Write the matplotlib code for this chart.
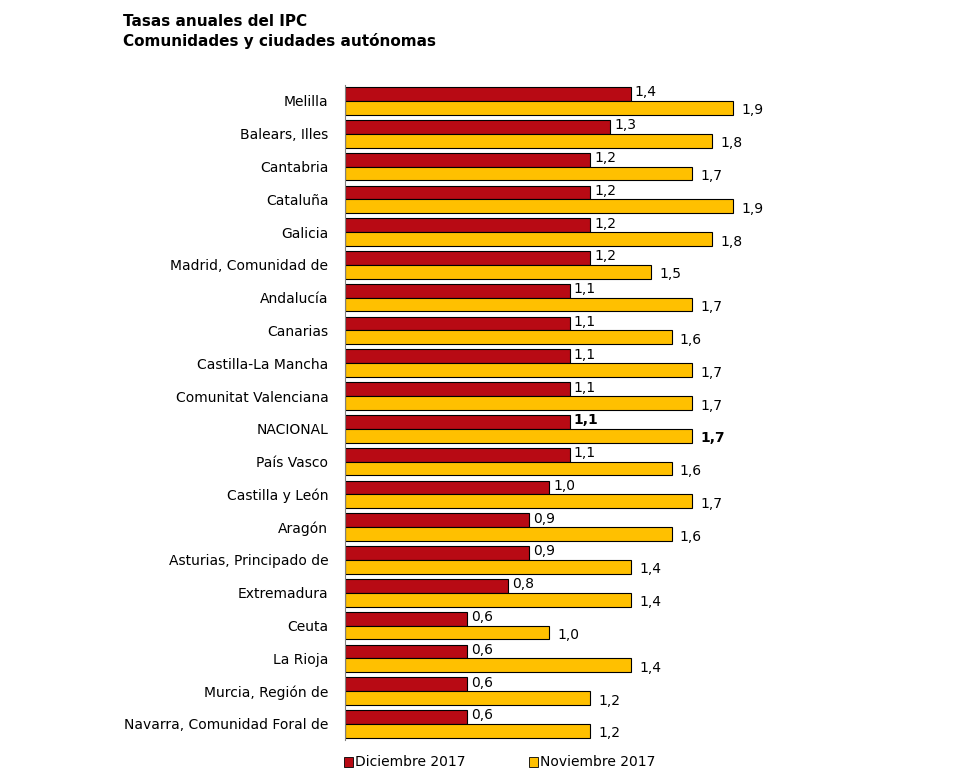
import matplotlib.pyplot as plt
import numpy as np

regions = ["Melilla", "Balears, Illes", "Cantabria", "Cataluña", "Galicia",
           "Madrid, Comunidad de", "Andalucía", "Canarias", "Castilla-La Mancha",
           "Comunitat Valenciana", "NACIONAL", "País Vasco", "Castilla y León",
           "Aragón", "Asturias, Principado de", "Extremadura", "Ceuta", "La Rioja",
           "Murcia, Región de", "Navarra, Comunidad Foral de"]
dic_2017 = [1.4, 1.3, 1.2, 1.2, 1.2, 1.2, 1.1, 1.1, 1.1, 1.1, 1.1, 1.1, 1.0,
            0.9, 0.9, 0.8, 0.6, 0.6, 0.6, 0.6]
nov_2017 = [1.9, 1.8, 1.7, 1.9, 1.8, 1.5, 1.7, 1.6, 1.7, 1.7, 1.7, 1.6, 1.7,
            1.6, 1.4, 1.4, 1.0, 1.4, 1.2, 1.2]

red = '#B80A14'
yellow = '#FFC000'

fig = plt.figure(figsize=(9.8, 7.76), dpi=100)
ax = fig.add_axes([0.352, 0.046, 0.50, 0.845])

y = np.arange(len(regions))
h = 0.42
ax.barh(y - h / 2, dic_2017, height=h, color=red, edgecolor='black', linewidth=0.8)
ax.barh(y + h / 2, nov_2017, height=h, color=yellow, edgecolor='black', linewidth=0.8)

for i, name in enumerate(regions):
    w = 'bold' if name == "NACIONAL" else 'normal'
    ax.text(dic_2017[i] + 0.02, y[i] - h / 2 - 0.05, f"{dic_2017[i]:.1f}".replace('.', ','),
            va='center', ha='left', fontsize=10, fontweight=w)
    ax.text(nov_2017[i] + 0.04, y[i] + h / 2 + 0.08, f"{nov_2017[i]:.1f}".replace('.', ','),
            va='center', ha='left', fontsize=10, fontweight=w)

ax.set_yticks(y)
ax.set_yticklabels(regions, fontsize=10)
ax.set_ylim(len(regions) - 0.5, -0.5)
ax.set_xlim(0, 2.4)
ax.set_xticks([])
ax.tick_params(axis='y', length=0, pad=12)
for s in ['top', 'right', 'bottom']:
    ax.spines[s].set_visible(False)
ax.spines['left'].set_color('#808080')

fig.text(0.126, 0.972, "Tasas anuales del IPC", fontsize=11, fontweight='bold', va='center')
fig.text(0.126, 0.947, "Comunidades y ciudades autónomas", fontsize=11, fontweight='bold', va='center')

fig.patches.append(plt.Rectangle((0.351, 0.012), 0.009, 0.012, transform=fig.transFigure,
                                 facecolor=red, edgecolor='black', linewidth=0.6))
fig.text(0.362, 0.018, "Diciembre 2017", fontsize=10, va='center')
fig.patches.append(plt.Rectangle((0.540, 0.012), 0.009, 0.012, transform=fig.transFigure,
                                 facecolor=yellow, edgecolor='black', linewidth=0.6))
fig.text(0.551, 0.018, "Noviembre 2017", fontsize=10, va='center')

fig.savefig("out.png", dpi=100)
